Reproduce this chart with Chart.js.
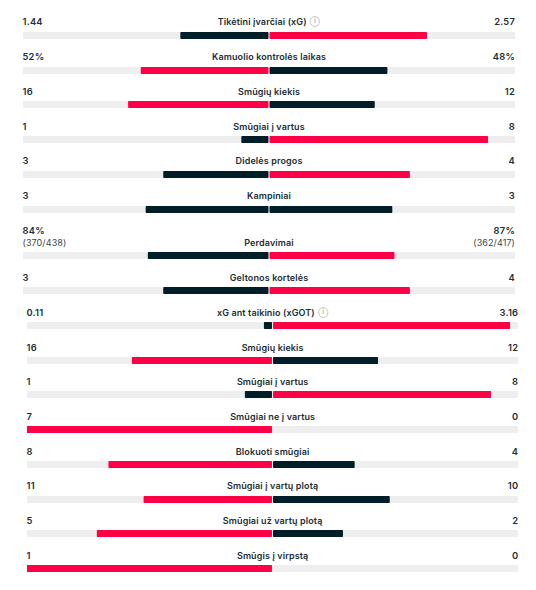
<!DOCTYPE html>
<html><head><meta charset="utf-8">
<script src="https://cdn.jsdelivr.net/npm/chart.js@4"></script>
<style>
html,body{margin:0;padding:0;background:#fff;width:536px;height:590px;overflow:hidden}
body{font-family:Inter,"Noto Sans",sans-serif;color:#222e36;position:relative}
.t{position:absolute;font-size:9px;line-height:12px;font-weight:600;white-space:nowrap;letter-spacing:.12px}
.v{font-size:9.3px;letter-spacing:.25px}
.c{transform:translateX(-50%)}
.r{text-align:right}
.sub{font-weight:400;color:#3c464d;font-size:9px;letter-spacing:.1px}
.i{display:inline-block;box-sizing:border-box;width:10.5px;height:10.5px;line-height:8.5px;border:1px solid #c4c7c9;border-radius:50%;font-size:7px;font-weight:400;color:#8a8f93;text-align:center;margin-left:3px;letter-spacing:0;position:relative;top:0;vertical-align:top}
canvas{position:absolute;display:block}
</style></head><body>
<script>
const labels=["Tikėtini įvarčiai (xG)","Kamuolio kontrolės laikas","Smūgių kiekis","Smūgiai į vartus","Didelės progos","Kampiniai","Perdavimai","Geltonos kortelės","xG ant taikinio (xGOT)","Smūgių kiekis","Smūgiai į vartus","Smūgiai ne į vartus","Blokuoti smūgiai","Smūgiai į vartų plotą","Smūgiai už vartų plotą","Smūgis į virpstą"];
const homeText=["1.44","52%","16","1","3","3","84%","3","0.11","16","1","7","8","11","5","1"];
const awayText=["2.57","48%","12","8","4","3","87%","4","3.16","12","8","0","4","10","2","0"];
const homeValues=[1.44,52,16,1,3,3,84,3,0.11,16,1,7,8,11,5,1];
const awayValues=[2.57,48,12,8,4,3,87,4,3.16,12,8,0,4,10,2,0];
const homeColor=["d","r","r","d","d","d","d","d","d","r","d","r","r","r","r","r"];
const awayColor=["r","d","d","r","r","d","r","r","r","d","r","d","d","d","d","d"];
const homeSub={6:"(370/438)"};
const awaySub={6:"(362/417)"};
const infoRows=[0,8];
const trackTops=[32,67,101,136,171,206,252,287,322,357,391,426,461,496,530,565];
const labelTops=[16,51,86,121,155,190,237,272,307,342,376,411,446,480,515,550];
const palette={r:"#ff0046",d:"#001e28"};
const trackColor="#eeeeee";
const gap=0.0035;
function add(cls,txt,css,html){const e=document.createElement("div");e.className="t "+cls;if(html)e.innerHTML=txt;else e.textContent=txt;Object.assign(e.style,css);document.body.appendChild(e);return e;}
labels.forEach((name,i)=>{
  const shifted=i>=8;
  const left=shifted?27:23, w=shifted?491.3:492;
  const top=trackTops[i];
  const ly=labelTops[i];
  const cx=left+w/2;
  const sum=homeValues[i]+awayValues[i];
  const h=homeValues[i]/sum, a=awayValues[i]/sum;
  add("c",name+(infoRows.includes(i)?'<span class="i">i</span>':''),{left:cx+"px",top:ly+"px"},true);
  const vy=homeSub[i]?ly-12:ly;
  add("v",homeText[i],{left:(left-0.5)+"px",top:vy+"px"});
  add("v r",awayText[i],{right:(536-left-w)+"px",top:vy+"px"});
  if(homeSub[i]){
    add("sub",homeSub[i],{left:(left-0.5)+"px",top:ly+"px"});
    add("r sub",awaySub[i],{right:(536-left-w)+"px",top:ly+"px"});
  }
  const cv=document.createElement("canvas");
  cv.style.left=left+"px";cv.style.top=top+"px";cv.style.width=w+"px";cv.style.height="7px";
  cv.width=Math.round(w);cv.height=7;document.body.appendChild(cv);
  new Chart(cv,{type:"bar",data:{labels:[name],datasets:[
    {data:[[-1,1]],backgroundColor:trackColor,borderRadius:1.5,borderSkipped:false,grouped:false,order:3},
    {data:[homeValues[i]>0?[-h,-gap]:null],backgroundColor:palette[homeColor[i]],borderRadius:1.5,borderSkipped:false,grouped:false,order:1},
    {data:[awayValues[i]>0?[gap,a]:null],backgroundColor:palette[awayColor[i]],borderRadius:1.5,borderSkipped:false,grouped:false,order:2}
  ]},options:{indexAxis:"y",responsive:false,animation:false,maintainAspectRatio:false,devicePixelRatio:1,
    layout:{padding:0},
    plugins:{legend:{display:false},tooltip:{enabled:false}},
    datasets:{bar:{barPercentage:1,categoryPercentage:1}},
    scales:{x:{type:"linear",display:false,min:-1,max:1},y:{display:false}}}});
});
</script>
</body></html>
